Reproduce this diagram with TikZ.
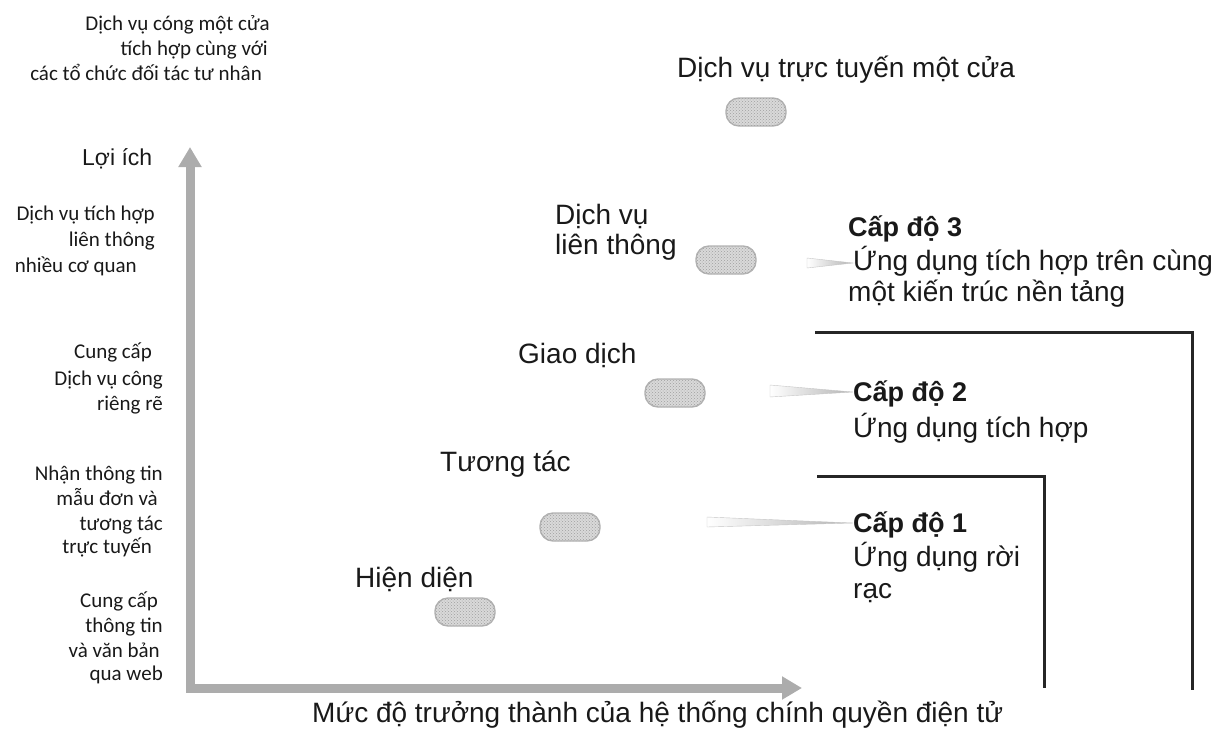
\documentclass[tikz,border=0pt]{standalone}
\usepackage{fontspec}
\setmainfont{Liberation Sans}
\newfontfamily\smallfont{Carlito}
\usetikzlibrary{arrows.meta,calc,patterns}
\begin{document}
\begin{tikzpicture}[x=1pt,y=-1pt,
 main/.style={font=\fontsize{28}{32}\selectfont, inner sep=0pt, anchor=base west, text=black!90},
 lvl/.style={font=\fontsize{27}{31}\selectfont\bfseries, inner sep=0pt, anchor=base west, text=black!90},
 side/.style={font=\smallfont\fontsize{21}{25}\selectfont, inner sep=0pt, anchor=base east, text=black!90},
 pill/.style={draw=gray!60, line width=1.4pt, fill=gray!30, rounded corners=13pt, minimum width=60pt, minimum height=28pt, inner sep=0pt, postaction={pattern=crosshatch dots, pattern color=gray!75}},
 axis/.style={line width=9pt, draw=gray!65, line join=miter, {Triangle[width=22pt,length=20pt]}-{Triangle[width=22pt,length=20pt]}},
 bracket/.style={line width=3pt, draw=black!85, line join=miter},
 wedge/.style={left color=white, right color=gray!60, draw=gray!45, line width=0.4pt}
]
\useasboundingbox (0,0) rectangle (1220,742);

% axes
\coordinate (O) at (190,688);
\coordinate (Ytip) at (190,147);
\coordinate (Xtip) at (802,688);
\draw[axis] (Ytip) -- (O) -- (Xtip);

% axis labels
\node[main, font=\fontsize{23}{27}\selectfont] (yl) at (82,165) {Lợi ích};
\node[main] (xl) at (312,722) {Mức độ trưởng thành của hệ thống chính quyền điện tử};

% pills
\node[pill] (p1) at (465,612) {};
\node[pill] (p2) at (570,527) {};
\node[pill] (p3) at (675,393) {};
\node[pill] (p4) at (726,260) {};
\node[pill] (p5) at (756,112) {};

% stage labels
\node[main] (t5) at (677,77) {Dịch vụ trực tuyến một cửa};
\node[main] (t4a) at (555,224) {Dịch vụ};
\node[main] (t4b) at (555,254) {liên thông};
\node[main] (t3) at (518,363) {Giao dịch};
\node[main] (t2) at (440,471) {Tương tác};
\node[main] (t1) at (355,587) {Hiện diện};

% level labels
\node[lvl] (c3) at (848,236) {Cấp độ 3};
\node[main] (c3a) at (853,270) {Ứng dụng tích hợp trên cùng};
\node[main] (c3b) at (848,301) {một kiến trúc nền tảng};
\node[lvl] (c2) at (853,401) {Cấp độ 2};
\node[main] (c2a) at (853,437) {Ứng dụng tích hợp};
\node[lvl] (c1) at (853,532) {Cấp độ 1};
\node[main] (c1a) at (853,566) {Ứng dụng rời};
\node[main] (c1b) at (853,598) {rạc};

% wedges
\coordinate (w3) at (807,263);
\coordinate (w2) at (770,391);
\coordinate (w1) at (707,522);
\shade[wedge] ($(w3)+(0,-5)$) -- ($(c3a.base west)+(0,-7)$) -- ($(w3)+(0,5)$) -- cycle;
\shade[wedge] ($(w2)+(0,-6)$) -- ($(c2.base west)+(0,-9)$) -- ($(w2)+(0,6)$) -- cycle;
\shade[wedge] ($(w1)+(0,-5)$) -- ($(c1.base west)+(0,-9)$) -- ($(w1)+(0,5)$) -- cycle;

% brackets
\coordinate (b2s) at (815,332);
\coordinate (b2c) at (1192,332);
\coordinate (b2e) at (1192,690);
\draw[bracket] (b2s) -- (b2c) -- (b2e);
\coordinate (b1s) at (817,476);
\coordinate (b1c) at (1044,476);
\coordinate (b1e) at (1044,688);
\draw[bracket] (b1s) -- (b1c) -- (b1e);

% side labels
\node[side] (a1) at (270,30) {Dịch vụ cóng một cửa};
\node[side] (a2) at (268,55) {tích hợp cùng với};
\node[side] (a3) at (262,80) {các tổ chức đối tác tư nhân};

\node[side] (b1) at (155,220) {Dịch vụ tích hợp};
\node[side] (b2) at (155,246) {liên thông};
\node[side] (b3) at (137,272) {nhiều cơ quan};

\node[side] (d1) at (152,358) {Cung cấp};
\node[side] (d2) at (163,385) {Dịch vụ công};
\node[side] (d3) at (163,410) {riêng rẽ};

\node[side] (e1) at (163,480) {Nhận thông tin};
\node[side] (e2) at (158,505) {mẫu đơn và};
\node[side] (e3) at (163,530) {tương tác};
\node[side] (e4) at (152,553) {trực tuyến};

\node[side] (f1) at (158,607) {Cung cấp};
\node[side] (f2) at (163,632) {thông tin};
\node[side] (f3) at (160,657) {và văn bản};
\node[side] (f4) at (163,680) {qua web};
\end{tikzpicture}
\end{document}
